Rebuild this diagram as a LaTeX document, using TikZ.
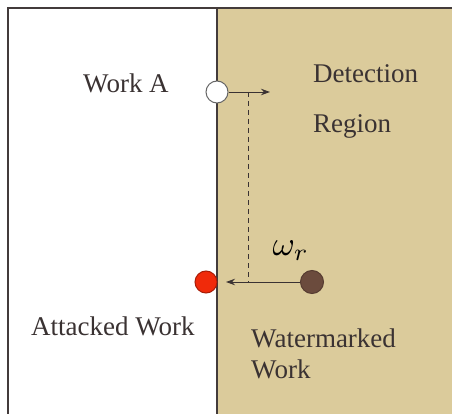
\documentclass[tikz,border=0pt]{standalone}
\usepackage{fontspec}
\setmainfont{Liberation Serif}
\usetikzlibrary{arrows.meta}
\definecolor{tan}{HTML}{DBCB9B}
\definecolor{edge}{HTML}{433B3B}
\definecolor{ink}{HTML}{3A3232}
\definecolor{hit}{HTML}{F02A0A}
\definecolor{mark}{HTML}{6B4B3D}
\tikzset{
  x=1pt, y=-1pt,
  label text/.style={inner sep=0pt, anchor=base west, text=ink,
    font=\fontsize{27}{31}\selectfont, align=left},
  dot/.style={circle, minimum size=22pt, inner sep=0pt, line width=1pt},
  link/.style={draw=ink, line width=0.9pt},
  tip/.style={-{Stealth[length=9pt,width=6.5pt]}}
}
\begin{document}
\begin{tikzpicture}
\useasboundingbox (0,0) rectangle (452,414);
% background halves
\fill[white] (0,0) rectangle (217,414);
\fill[tan] (217,8) rectangle (452,414);
% frame and divider
\draw[edge, line width=1.5pt] (8,414) -- (8,8) -- (452,8);
\draw[edge, line width=1.5pt] (217,8) -- (217,414);

% points
\node[dot, draw=gray!80!black, fill=white] (a) at (217,92) {};
\node[dot, draw=hit!70!black, fill=hit] (att) at (206,282) {};
\node[dot, minimum size=23pt, draw=mark!80!black, fill=mark] (wm) at (312,282) {};

% direction of the detection region
\coordinate (ahead) at (270,92);
\draw[link, tip] (a) -- (ahead);
% attack vector and its projection
\coordinate (atip) at (226,282);
\draw[link, tip] (wm) -- (atip);
\coordinate (top) at (248,92);
\coordinate (foot) at (248,282);
\draw[link, dashed, dash pattern=on 5pt off 4pt] (top) -- (foot);

% labels
\node[label text] (la) at (83,93) {Work A};
\node[label text] (ld) at (313,83) {Detection};
\node[label text] (lr) at (313,133) {Region};
\node[label text] (lat) at (31,335) {Attacked Work};
\node[label text] (lw) at (251,347) {Watermarked};
\node[label text] (lw2) at (251,378) {Work};
\node[inner sep=0pt, anchor=base west, text=black, scale=3.4] (om) at (272,255)
  {$\omega_{r}$};
\end{tikzpicture}
\end{document}
